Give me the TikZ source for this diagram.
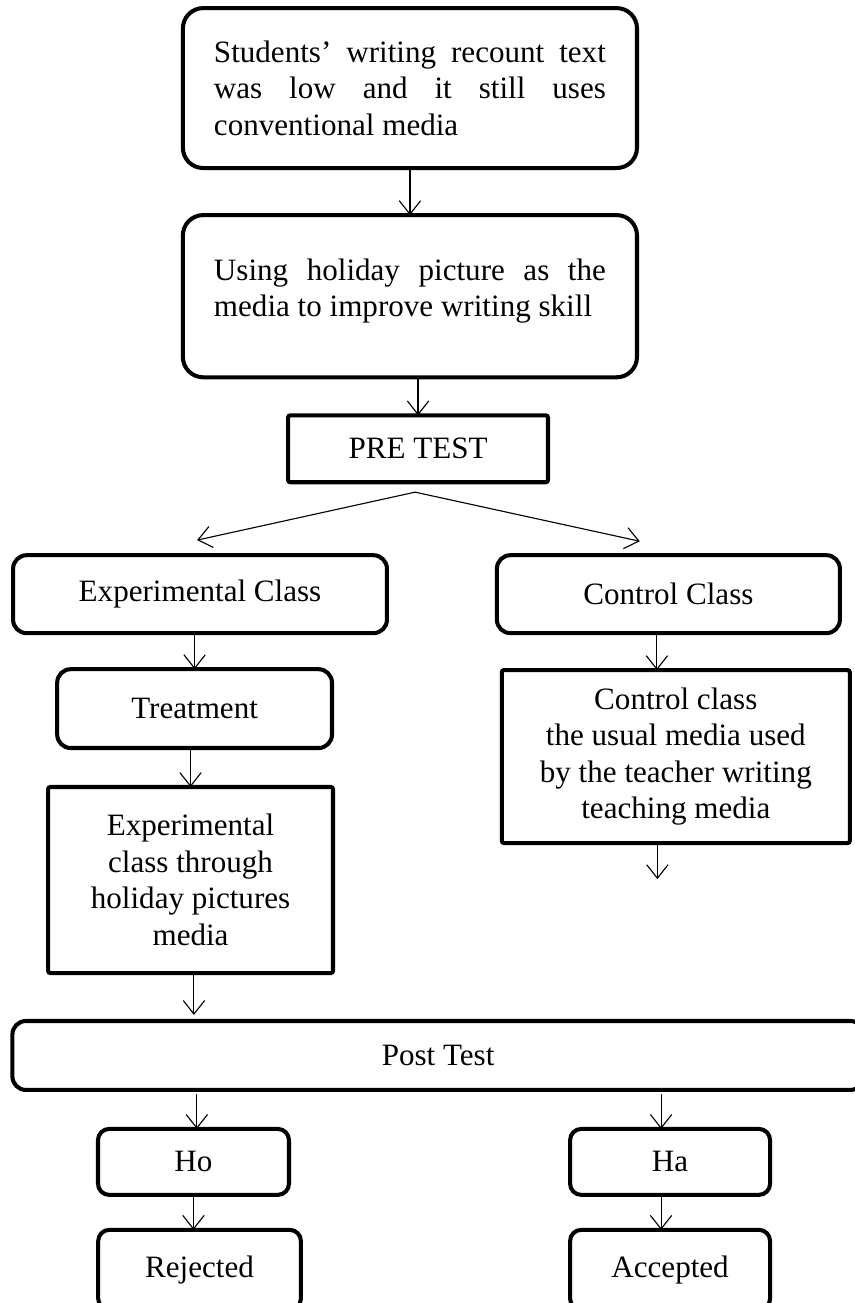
\documentclass[tikz,border=0pt]{standalone}
\usepackage{fontspec}
\setmainfont{Liberation Serif}
\usetikzlibrary{positioning,arrows.meta}
\hyphenpenalty=10000
\tolerance=10000
\tikzset{roundbox/.style={draw,line width=1.8pt,rounded corners=6pt,outer sep=0pt,align=center},
  bigbox/.style={roundbox,rounded corners=9pt,text width=174pt,align=justify,inner xsep=13.8pt,minimum width=201.6pt},
  squarebox/.style={draw,line width=1.8pt,rounded corners=1pt,outer sep=0pt,align=center},
  arr/.style={line width=0.5pt,-{Straight Barb[length=6pt,width=9.5pt]}}
}

\begin{document}
\begin{tikzpicture}[font=\fontsize{13.8}{16.2}\selectfont]
  \clip (0,0) rectangle (379.6pt,-578.5pt);

  % Problem and media
    \node[bigbox, minimum height=71pt] (problem) at (182pt,-39.1pt) {Students’ writing recount text\linebreak was low and it still uses\linebreak conventional media};
    \node[bigbox, minimum height=72pt, text depth=23.5pt, below = 20.9pt of problem] (media) {Using holiday picture as the\linebreak media to improve writing skill};
    \node[squarebox, minimum width=115.4pt, minimum height=29.7pt, below = 16.9pt of media, xshift=3.6pt] (pretest) {PRE TEST};

    % Classes
    \node[roundbox, minimum width=166pt, minimum height=34.6pt, below = 32.4pt of pretest, xshift=-96.8pt] (expclass) {Experimental Class};
    \node[roundbox, minimum width=152.3pt, minimum height=34.6pt, right = 48.8pt of expclass] (conclass) {Control Class};
    \node[roundbox, minimum width=122pt, minimum height=35pt, below = 16pt of expclass, xshift=-2.4pt] (treatment) {Treatment};
    \node[squarebox, minimum width=126.5pt, minimum height=82.6pt, below = 17.3pt of treatment, xshift=-1.8pt] (expmedia) {Experimental\\class through\\holiday pictures\\media};
    \node[squarebox, minimum width=154.5pt, minimum height=76.8pt, below = 16.4pt of conclass, xshift=3.3pt] (conmedia) {Control class\\the usual media used\\by the teacher writing\\teaching media};

    % Post test and hypotheses
    \node[roundbox, minimum width=378pt, minimum height=30.6pt, below = 21.3pt of expmedia, xshift=109.9pt] (posttest) {Post Test};
    \node[roundbox, rounded corners=5pt, minimum width=84.8pt, minimum height=29.3pt, below = 17.3pt of posttest, xshift=-108.6pt] (ho) {Ho};
    \node[roundbox, rounded corners=5pt, minimum width=88.8pt, minimum height=29.3pt, right = 124.8pt of ho] (ha) {Ha};
    \node[roundbox, rounded corners=5pt, minimum width=90pt, minimum height=35.5pt, below = 15.5pt of ho, xshift=2.7pt] (rejected) {Rejected};
    \node[roundbox, rounded corners=5pt, minimum width=88.8pt, minimum height=35.5pt, below = 15.5pt of ha] (accepted) {Accepted};

    \coordinate[below = 4.4pt of pretest.south, xshift=-1.3pt] (split);
    \coordinate[below = 16pt of conmedia.south, xshift=-8.2pt] (conend);

    % Top chain
    \draw[arr] (problem) -- (media);
    \draw[arr] (media.south -| pretest.north) -- (pretest.north);
    \draw[arr] (split) -- ([xshift=-1.3pt,yshift=6.7pt]expclass.north);
    \draw[arr] (split) -- ([xshift=-12.7pt,yshift=6.2pt]conclass.north);

    % Class chains
    \draw[arr] (treatment.north |- expclass.south) -- (treatment.north);
    \draw[arr] (expmedia.north |- treatment.south) -- (expmedia.north);
    \draw[arr] ([xshift=-5.1pt]conclass.south) -- ([xshift=-5.1pt]conclass.south |- conmedia.north);
    \draw[arr] ([xshift=-8.2pt]conmedia.south) -- (conend);
    \draw[arr, shorten >=2.7pt] ([xshift=1.5pt]expmedia.south) -- ([xshift=1.5pt]expmedia.south |- posttest.north);

    % Hypotheses
    \draw[arr, shorten <=1.8pt] ([xshift=1.5pt]ho.north |- posttest.south) -- ([xshift=1.5pt]ho.north);
    \draw[arr, shorten <=1.8pt] ([xshift=-4pt]ha.north |- posttest.south) -- ([xshift=-4pt]ha.north);
    \draw[arr] (ho.south) -- (ho.south |- rejected.north);
    \draw[arr] ([xshift=-4pt]ha.south) -- ([xshift=-4pt]ha.south |- accepted.north);

  \end{tikzpicture}
\end{document}
